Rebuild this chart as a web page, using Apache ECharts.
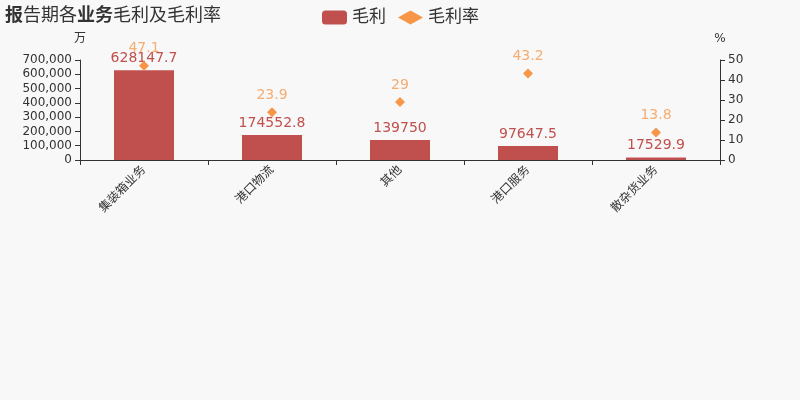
<!doctype html>
<html lang="zh">
  <head>
    <meta charset="UTF-8" />
    <title>报告期各业务毛利及毛利率</title>
    <script src="https://cdn.jsdelivr.net/npm/echarts/dist/echarts.min.js"></script>
    <style>
      body { margin: 0; padding: 0; background: #f8f8f8; }
      .main { width: 800px; height: 400px; }
    </style>
  </head>
  <body>
    <div class="main"></div>
    <script>
      // 数据
      const categories = ["集装箱业务", "港口物流", "其他", "港口服务", "散杂货业务"];
      const grossProfit = [628147.7, 174552.8, 139750, 97647.5, 17529.9];
      const grossMargin = [47.1, 23.9, 29, 43.2, 13.8];

      const myChart = echarts.init(document.querySelector(".main"));

      const axisStyle = {
        axisLine: { show: true, lineStyle: { color: "#333" } },
        axisTick: { show: true, lineStyle: { color: "#333" } },
        axisLabel: { color: "#333", fontSize: 12 },
        splitLine: { show: false },
        nameTextStyle: { color: "#333", fontSize: 12 },
      };

      const option = {
        backgroundColor: "#f8f8f8",
        textStyle: { fontFamily: "DejaVu Sans, Noto Sans CJK SC" },
        title: {
          text: "{b|报}告期各{b|业务}毛利及毛利率",
          left: 0,
          top: 2,
          textStyle: {
            fontSize: 18,
            fontWeight: "normal",
            color: "#333",
            rich: {
              b: { fontSize: 18, fontWeight: "bold", color: "#333" },
            },
          },
        },
        legend: {
          left: 317,
          top: 4,
          itemWidth: 25,
          itemHeight: 14,
          itemGap: 12,
          textStyle: { fontSize: 17, color: "#333" },
          data: [
            { name: "毛利", icon: "roundRect" },
            { name: "毛利率", icon: "diamond" },
          ],
        },
        grid: { left: 80, right: 80, top: 60, bottom: 240 },
        xAxis: {
          type: "category",
          data: categories,
          ...axisStyle,
          axisLabel: { color: "#333", fontSize: 12, rotate: 45, interval: 0 },
        },
        yAxis: [
          {
            type: "value",
            name: "万",
            min: 0,
            max: 700000,
            interval: 100000,
            nameGap: 15,
            ...axisStyle,
          },
          {
            type: "value",
            name: "%",
            min: 0,
            max: 50,
            interval: 10,
            nameGap: 15,
            ...axisStyle,
          },
        ],
        series: [
          {
            name: "毛利",
            type: "bar",
            barWidth: 60,
            data: grossProfit,
            itemStyle: { color: "#c0504d" },
            label: {
              show: true,
              position: "top",
              distance: 5,
              color: "#c0504d",
              fontSize: 14,
            },
          },
          {
            name: "毛利率",
            type: "scatter",
            yAxisIndex: 1,
            symbol: "diamond",
            symbolSize: 10,
            data: grossMargin,
            itemStyle: { color: "#f79646", opacity: 1 },
            label: {
              show: true,
              position: "top",
              distance: 5,
              color: "rgba(244, 164, 96, 0.9)",
              fontSize: 14,
            },
          },
        ],
      };

      myChart.setOption(option);
    </script>
  </body>
</html>
